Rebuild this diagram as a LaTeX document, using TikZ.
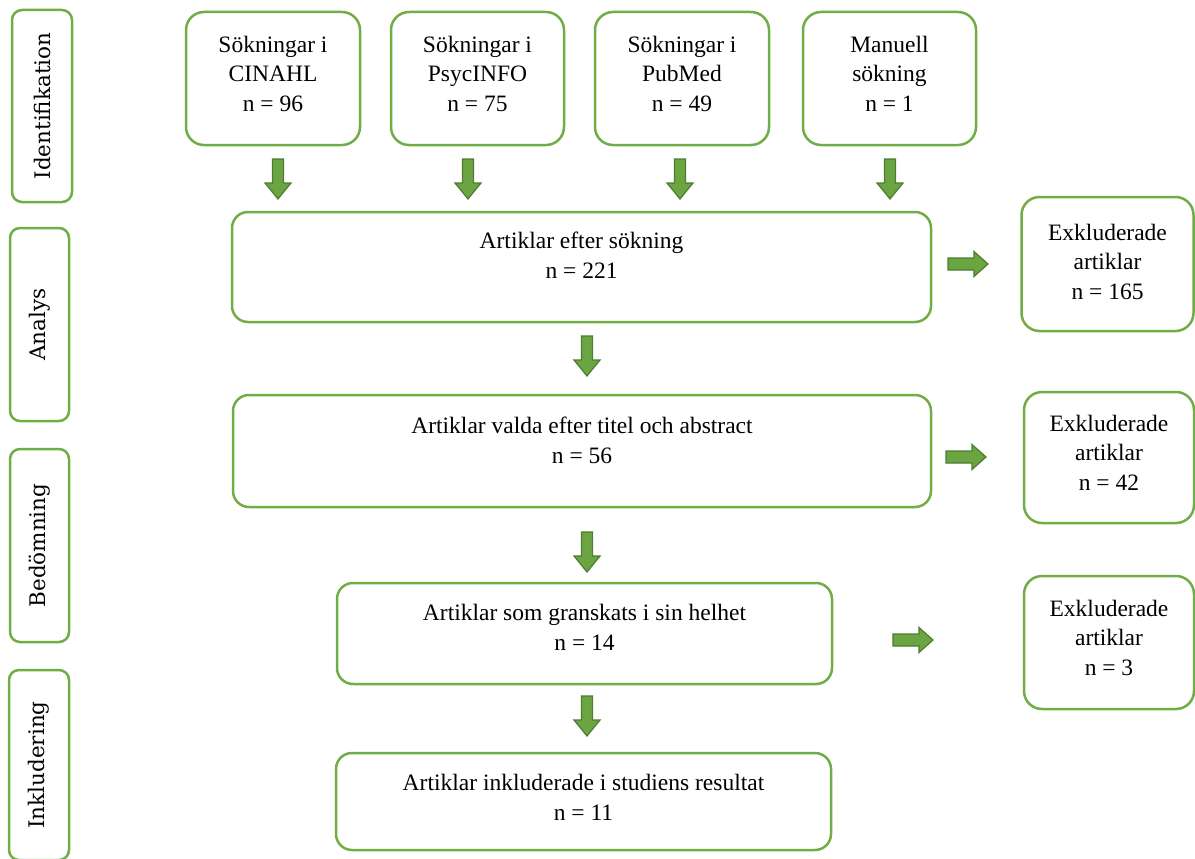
\documentclass[tikz,border=0pt]{standalone}
\usepackage{fontspec}
\setmainfont{Liberation Serif}
\newfontfamily\slabfont{DejaVu Serif}
\definecolor{boxgreen}{RGB}{112,173,71}
\definecolor{arrfill}{RGB}{106,165,66}
\definecolor{arrdraw}{RGB}{78,124,48}
\tikzset{
  box/.style={draw=boxgreen, line width=2.5pt, rounded corners=18pt, inner sep=0pt, rectangle},
  sidebox/.style={draw=boxgreen, line width=2.5pt, rounded corners=10pt, inner sep=0pt, rectangle},
  txt/.style={align=center, anchor=base, inner sep=0pt, font=\fontsize{23.5}{29.5}\selectfont},
  sidetxt/.style={rotate=90, inner sep=0pt, font=\slabfont\fontsize{21.5}{25}\selectfont},
  arrowstyle/.style={fill=arrfill, draw=arrdraw, line width=1.2pt, line join=miter},
  downarr/.pic={\filldraw[arrowstyle] (-5.5,-20) -- (5.5,-20) -- (5.5,4) -- (13,4) -- (0,20) -- (-13,4) -- (-5.5,4) -- cycle;},
  rightarr/.pic={\filldraw[arrowstyle] (-20,-6) -- (6,-6) -- (6,-12.5) -- (20,0) -- (6,12.5) -- (6,6) -- (-20,6) -- cycle;}
}
\begin{document}
\begin{tikzpicture}[x=1pt,y=-1pt]
\useasboundingbox (0,0) rectangle (1195,859);
% side boxes
\node[sidebox, minimum width=60pt, minimum height=192pt] (s1) at (42,106) {};
\node[sidetxt] (s1t) at (s1.center) {Identifikation};
\node[sidebox, minimum width=59pt, minimum height=193pt] (s2) at (39.5,324.5) {};
\node[sidetxt] (s2t) at (s2.center) {Analys};
\node[sidebox, minimum width=59pt, minimum height=193pt] (s3) at (39.5,545.5) {};
\node[sidetxt] (s3t) at (s3.center) {Bedömning};
\node[sidebox, minimum width=60pt, minimum height=190pt] (s4) at (39,765) {};
\node[sidetxt] (s4t) at (s4.center) {Inkludering};
% top boxes
\node[box, minimum width=174pt, minimum height=133pt] (cin) at (273,78.5) {};
\node[txt] (cint) at (273,111) {Sökningar i\\CINAHL\\n = 96};
\node[box, minimum width=173pt, minimum height=133pt] (psy) at (477.5,78.5) {};
\node[txt] (psyt) at (477.5,111) {Sökningar i\\PsycINFO\\n = 75};
\node[box, minimum width=174pt, minimum height=133pt] (pub) at (682,78.5) {};
\node[txt] (pubt) at (682,111) {Sökningar i\\PubMed\\n = 49};
\node[box, minimum width=173pt, minimum height=133pt] (man) at (889.5,78.5) {};
\node[txt] (mant) at (889.5,111) {Manuell\\sökning\\n = 1};
% main boxes
\node[box, rounded corners=16pt, minimum width=699pt, minimum height=110pt] (a1) at (581.5,267) {};
\node[txt] (a1t) at (581.5,278) {Artiklar efter sökning\\n = 221};
\node[box, rounded corners=16pt, minimum width=698pt, minimum height=112pt] (a2) at (582,451) {};
\node[txt] (a2t) at (582,463) {Artiklar valda efter titel och abstract\\n = 56};
\node[box, rounded corners=16pt, minimum width=495pt, minimum height=101pt] (a3) at (584.5,633.5) {};
\node[txt] (a3t) at (584.5,650) {Artiklar som granskats i sin helhet\\n = 14};
\node[box, rounded corners=16pt, minimum width=495pt, minimum height=97pt] (a4) at (583.5,801.5) {};
\node[txt] (a4t) at (583.5,820) {Artiklar inkluderade i studiens resultat\\n = 11};
% excluded boxes
\node[box, minimum width=172pt, minimum height=134pt] (e1) at (1107.5,264) {};
\node[txt] (e1t) at (1107.5,299) {Exkluderade\\artiklar\\n = 165};
\node[box, minimum width=170pt, minimum height=131pt] (e2) at (1109,457.5) {};
\node[txt] (e2t) at (1109,490) {Exkluderade\\artiklar\\n = 42};
\node[box, minimum width=170pt, minimum height=133pt] (e3) at (1109,642.5) {};
\node[txt] (e3t) at (1109,675) {Exkluderade\\artiklar\\n = 3};
% block arrows
\pic at (278,179) {downarr};
\pic at (468,179) {downarr};
\pic at (680,179) {downarr};
\pic at (890,179) {downarr};
\pic at (587,356) {downarr};
\pic at (587,552) {downarr};
\pic at (587,716) {downarr};
\pic at (968,264) {rightarr};
\pic at (966,457) {rightarr};
\pic at (913,640) {rightarr};
\end{tikzpicture}
\end{document}
